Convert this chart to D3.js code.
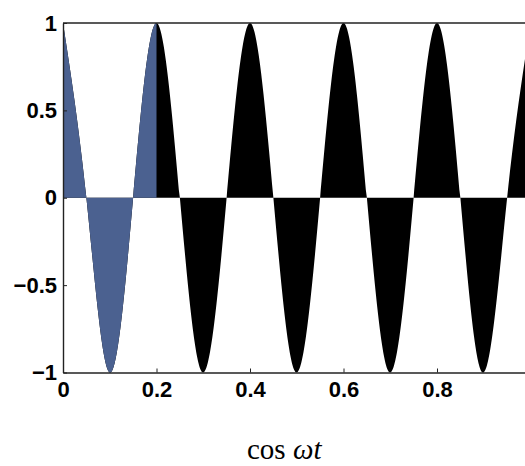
<!DOCTYPE html>
<html>
<head>
<meta charset="utf-8">
<script src="https://cdn.jsdelivr.net/npm/d3@7.9.0/dist/d3.min.js"></script>
<style>
  body { margin: 0; background: #fff; }
  .tick text { font-family: 'Liberation Sans', Arial, sans-serif; font-weight: bold; font-size: 22px; fill: #000; }
</style>
</head>
<body>
<svg id="chart" width="525" height="466"></svg>
<script>
// crests, troughs and zero crossings
const times = [0, 0.05, 0.1, 0.15, 0.2, 0.25, 0.3, 0.35, 0.4, 0.45, 0.5,
  0.55, 0.6, 0.65, 0.7, 0.75, 0.8, 0.85, 0.9, 0.95, 1.0];
const values = [1, 0, -1, 0, 1, 0, -1, 0, 1, 0, -1,
  0, 1, 0, -1, 0, 1, 0, -1, 0, 1];
const highlightEnd = 0.2;

const xTicks = [0, 0.2, 0.4, 0.6, 0.8, 1];
const xTickLabels = ['0', '0.2', '0.4', '0.6', '0.8', '1'];
const yTicks = [-1, -0.5, 0, 0.5, 1];
const yTickLabels = ['\u22121', '\u22120.5', '0', '0.5', '1'];

const points = times.map((t, i) => ({ t, v: values[i] }));

const svg = d3.select('#chart');

const x = d3.scaleLinear().domain([0, 1]).range([63, 530.5]);
const y = d3.scaleLinear().domain([-1, 1]).range([372.5, 23]);

const area = d3.area()
  .x((d) => x(d.t))
  .y0(y(0))
  .y1((d) => y(d.v))
  .curve(d3.curveNatural);

svg.append('defs')
  .append('clipPath')
  .attr('id', 'first-part')
  .append('rect')
  .attr('x', x(0))
  .attr('y', 0)
  .attr('width', x(highlightEnd) - x(0))
  .attr('height', 466);

svg.append('path')
  .datum(points)
  .attr('d', area)
  .attr('fill', '#000');

svg.append('path')
  .datum(points)
  .attr('d', area)
  .attr('fill', '#4b6190')
  .attr('clip-path', 'url(#first-part)');

// frame
const frameColor = '#222';
svg.append('line')
  .attr('x1', x(0)).attr('x2', x(1))
  .attr('y1', y(1)).attr('y2', y(1))
  .attr('stroke', frameColor)
  .attr('stroke-width', 1.4);
svg.append('line')
  .attr('x1', x(1)).attr('x2', x(1))
  .attr('y1', y(1)).attr('y2', y(-1))
  .attr('stroke', frameColor)
  .attr('stroke-width', 1.4);

const xAxis = svg.append('g')
  .attr('transform', `translate(0,${y(-1)})`)
  .call(d3.axisBottom(x)
    .tickValues(xTicks)
    .tickFormat((d, i) => xTickLabels[i])
    .tickSize(-4)
    .tickPadding(9)
    .tickSizeOuter(0));

const yAxis = svg.append('g')
  .attr('transform', `translate(${x(0)},0)`)
  .call(d3.axisLeft(y)
    .tickValues(yTicks)
    .tickFormat((d, i) => yTickLabels[i])
    .tickSize(-4)
    .tickPadding(6)
    .tickSizeOuter(0));

[xAxis, yAxis].forEach((g) => {
  g.select('.domain').attr('stroke', frameColor).attr('stroke-width', 1.4);
  g.selectAll('.tick line').attr('stroke', frameColor);
});

const label = svg.append('text')
  .attr('x', 247)
  .attr('y', 459)
  .attr('font-family', "'Liberation Serif', 'Times New Roman', serif")
  .attr('font-size', 29)
  .attr('fill', '#000');
label.append('tspan').text('cos ');
label.append('tspan').attr('font-style', 'italic').text('\u03C9t');
</script>
</body>
</html>
